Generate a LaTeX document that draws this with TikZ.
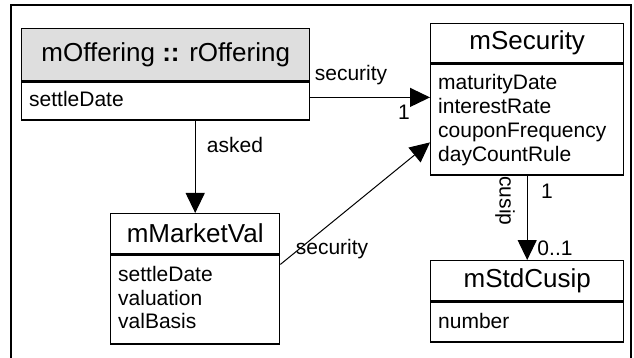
\documentclass[tikz,border=0pt]{standalone}
\usepackage{fontspec}
\setmainfont{Liberation Sans}
\usetikzlibrary{arrows.meta,calc}
\begin{document}
\begin{tikzpicture}[x=1pt,y=-1pt,
  boxpart/.style={draw=black, line width=1.4pt, inner sep=0pt, anchor=north west},
  titletext/.style={font=\fontsize{26}{30}\selectfont, inner sep=0pt},
  attrtext/.style={font=\fontsize{21}{24}\selectfont, inner sep=0pt, anchor=base west},
  lbl/.style={font=\fontsize{21}{24}\selectfont, inner sep=0pt},
  conn/.style={line width=1.2pt, -{Triangle[length=20pt,width=19pt]}},
  thinconn/.style={line width=1pt, -{Triangle[length=20pt,width=19pt]}}]
\useasboundingbox (0,0) rectangle (634,358);
% outer frame
\draw[line width=2pt] (10.5,380) -- (10.5,5) -- (631,5) -- (631,380);

% mOffering :: rOffering
\node[boxpart, fill=black!13, minimum width=288pt, minimum height=52pt] (offh) at (21,28) {};
\node[boxpart, minimum width=288pt, minimum height=38pt] (offb) at (offh.south west) {};
\node[titletext] (offt) at (offh.center) {mOffering \textbf{::} rOffering};
\node[attrtext] (offa1) at ($(offb.north west)+(8,25)$) {settleDate};

% mSecurity
\node[boxpart, minimum width=193pt, minimum height=39pt] (sech) at (430,23) {};
\node[boxpart, minimum width=193pt, minimum height=111pt] (secb) at (sech.south west) {};
\node[titletext] (sect) at (sech.center) {mSecurity};
\node[attrtext] (seca1) at ($(secb.north west)+(8,26)$) {maturityDate};
\node[attrtext] (seca2) at ($(secb.north west)+(8,50)$) {interestRate};
\node[attrtext] (seca3) at ($(secb.north west)+(8,74)$) {couponFrequency};
\node[attrtext] (seca4) at ($(secb.north west)+(8,98)$) {dayCountRule};

% mMarketVal
\node[boxpart, minimum width=169pt, minimum height=40pt] (mvh) at (110,213) {};
\node[boxpart, minimum width=169pt, minimum height=89pt] (mvb) at (mvh.south west) {};
\node[titletext] (mvt) at (mvh.center) {mMarketVal};
\node[attrtext] (mva1) at ($(mvb.north west)+(8,27)$) {settleDate};
\node[attrtext] (mva2) at ($(mvb.north west)+(8,51)$) {valuation};
\node[attrtext] (mva3) at ($(mvb.north west)+(8,74)$) {valBasis};

% mStdCusip
\node[boxpart, minimum width=193pt, minimum height=40pt] (cuh) at (430,260) {};
\node[boxpart, minimum width=193pt, minimum height=40pt] (cub) at (cuh.south west) {};
\node[titletext] (cut) at (cuh.center) {mStdCusip};
\node[attrtext] (cua1) at ($(cub.north west)+(8,27)$) {number};

% connectors
\coordinate (s1) at ($(offb.north east)+(0,16)$);
\draw[conn] (s1) -- (s1 -| sech.west);
\draw[conn] (mvh.north |- offb.south) -- (mvh.north);
\coordinate (s2) at ($(mvb.north east)+(0,10)$);
\coordinate (t2) at ($(secb.north west)+(0,79)$);
\draw[thinconn] (s2) -- (t2);
\draw[conn] (cuh.north |- secb.south) -- (cuh.north);

% labels
\node[lbl] (l1) at (351,75) {security};
\node[lbl] (l2) at (404,112) {1};
\node[lbl] (l3) at (235,145) {asked};
\node[lbl] (l4) at (332,249) {security};
\node[lbl, rotate=-90] (l5) at (505,201) {cusip};
\node[lbl] (l6) at (547,191) {1};
\node[lbl] (l7) at (555,248) {0..1};
\end{tikzpicture}
\end{document}
